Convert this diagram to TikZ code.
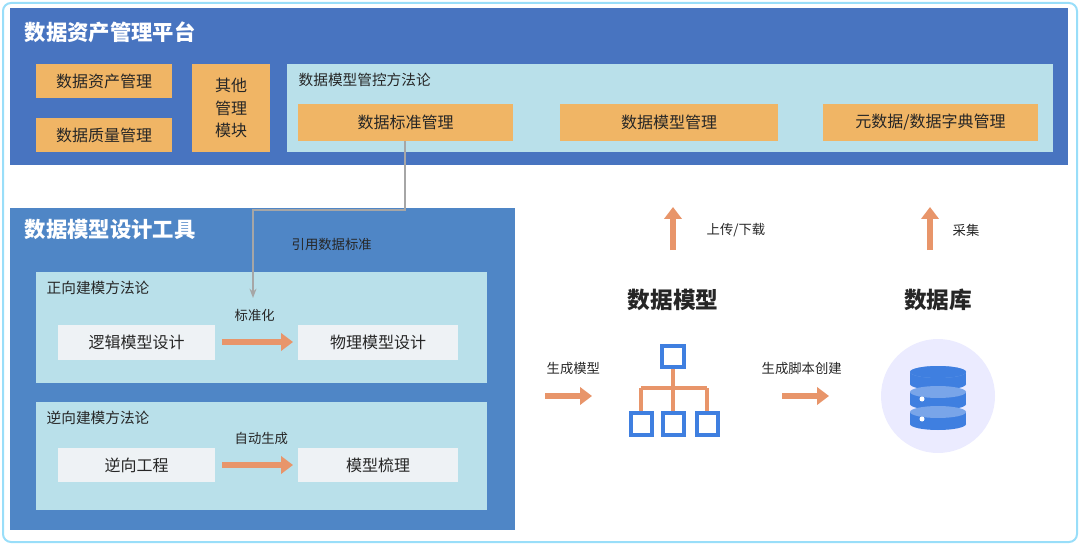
\documentclass[tikz,border=0pt]{standalone}
\usepackage{fontspec}
\setmainfont{Noto Sans CJK SC}
\usetikzlibrary{arrows.meta}
\definecolor{dblue}{HTML}{4874C0}
\definecolor{mblue}{HTML}{4F86C6}
\definecolor{lblue}{HTML}{B9E0EA}
\definecolor{orng}{HTML}{F0B565}
\definecolor{arr}{HTML}{E8956A}
\definecolor{gbox}{HTML}{EEF2F5}
\definecolor{icon}{HTML}{3F7FE0}
\begin{document}
\begin{tikzpicture}[x=0.75pt,y=-0.75pt,
  ob/.style={fill=orng,draw=none,font=\fontsize{12}{14}\selectfont,text=black!85},
  gb/.style={fill=gbox,draw=none,font=\fontsize{12}{14}\selectfont,text=black!85},
  lab/.style={font=\fontsize{10}{12}\selectfont,text=black!85,anchor=west},
  title/.style={font=\fontsize{16}{18}\selectfont\bfseries,text=white,anchor=west},
  big/.style={font=\fontsize{17}{20}\selectfont\bfseries,text=black!85},
  fat/.style={draw=arr,line width=4.5pt,-{Triangle[length=9pt,width=13pt]}}]
\useasboundingbox (0,0) rectangle (1080,545);
\draw[draw=cyan!40,line width=1.5pt,rounded corners=6pt] (3,3) rectangle (1077,542);
% top platform
\fill[dblue] (10,8) rectangle (1068,165);
\node[title] (t1) at (20,32) {数据资产管理平台};
\path[ob] (36,64) rectangle (172,98) node[midway] (a1) {数据资产管理};
\path[ob] (36,118) rectangle (172,152) node[midway] (a2) {数据质量管理};
\path[ob] (192,64) rectangle (270,152) node[midway,align=center,font=\fontsize{12}{17}\selectfont] (a3) {其他\\管理\\模块};
\fill[lblue] (287,64) rectangle (1053,152);
\node[lab,font=\fontsize{11}{13}\selectfont] (p1) at (294,80) {数据模型管控方法论};
\path[ob] (298,104) rectangle (513,141) node[midway] (s1) {数据标准管理};
\path[ob] (560,104) rectangle (778,141) node[midway] (s2) {数据模型管理};
\path[ob] (823,104) rectangle (1038,141) node[midway] (s3) {元数据/数据字典管理};
\coordinate (s1b) at (405,141);
% bottom-left tool
\fill[mblue] (10,208) rectangle (515,530);
\node[title] (t2) at (20,229) {数据模型设计工具};
\fill[lblue] (36,272) rectangle (487,383);
\fill[lblue] (36,402) rectangle (487,510);
\node[lab,font=\fontsize{11}{13}\selectfont] (f1) at (42,288) {正向建模方法论};
\node[lab,font=\fontsize{11}{13}\selectfont] (f2) at (42,418) {逆向建模方法论};
\path[gb] (58,325) rectangle (215,360) node[midway] (b1) {逻辑模型设计};
\path[gb] (298,325) rectangle (458,360) node[midway] (b2) {物理模型设计};
\path[gb] (58,448) rectangle (215,482) node[midway] (b3) {逆向工程};
\path[gb] (298,448) rectangle (458,482) node[midway] (b4) {模型梳理};
\draw[fat] (222,342) -- (293,342);
\draw[fat] (222,465) -- (293,465);
\node[lab] (l1) at (230,315) {标准化};
\node[lab] (l2) at (230,438) {自动生成};
\coordinate (g1) at (253,298);
\draw[gray!70,line width=1.2pt,-{Stealth[length=7pt]}] (s1b) -- (405,210) -- (253,210) -- (g1);
\node[lab] (l3) at (287,244) {引用数据标准};
% right
\node[big] (dm) at (673,300) {数据模型};
\node[big] (db) at (938,300) {数据库};
\draw[fat] (673,250) -- (673,207);
\draw[fat] (930,250) -- (930,207);
\node[lab] (u1) at (702,230) {上传/下载};
\node[lab] (u2) at (948,230) {采集};
\node[lab] (g2) at (542,368) {生成模型};
\node[lab] (g3) at (757,368) {生成脚本创建};
\draw[fat] (545,396) -- (592,396);
\draw[fat] (782,396) -- (829,396);
% hierarchy icon
\begin{scope}[line width=2.5pt]
\draw[arr] (673,367) -- (673,388) (641,388) -- (707,388) (641,388) -- (641,412) (673,388) -- (673,412) (707,388) -- (707,412);
\draw[icon,fill=white] (662,346) rectangle (684,367);
\draw[icon,fill=white] (631,413) rectangle (652,435);
\draw[icon,fill=white] (663,413) rectangle (684,435);
\draw[icon,fill=white] (697,413) rectangle (718,435);
\end{scope}
% database
\fill[blue!8] (938,396) circle[radius=57];
\foreach \y in {378,398,418}{
  \fill[icon] (910,\y-6) rectangle (966,\y+6);
  \fill[icon] (938,\y+6) ellipse[x radius=28,y radius=6];
  \fill[icon!70!white] (938,\y-6) ellipse[x radius=28,y radius=6];
}
\fill[icon] (938,372) ellipse[x radius=28,y radius=6];
\fill[white] (922,399) circle[radius=2.5] (922,419) circle[radius=2.5];
\end{tikzpicture}
\end{document}
